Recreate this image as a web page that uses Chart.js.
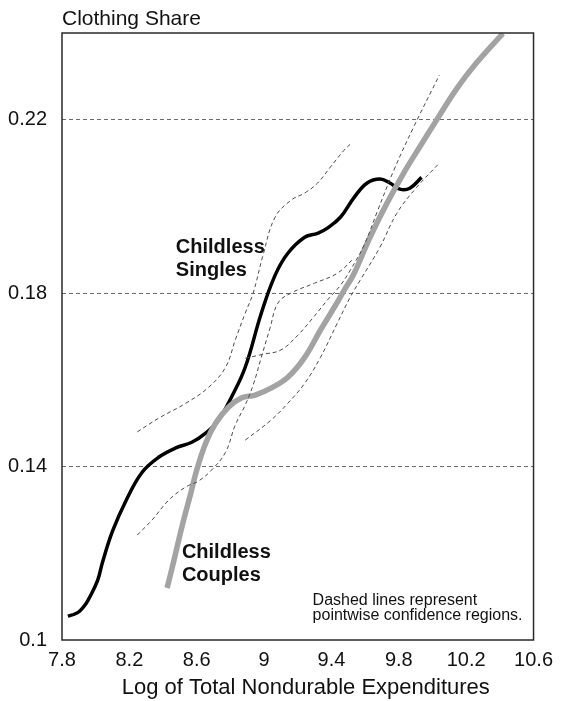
<!DOCTYPE html>
<html>
<head>
<meta charset="utf-8">
<script src="https://cdn.jsdelivr.net/npm/chart.js@4"></script>
<style>
  html, body { margin: 0; padding: 0; background: #ffffff; }
  #c { display: block; }
</style>
</head>
<body>
<canvas id="c" width="561" height="701" style="width:561px;height:701px"></canvas>
<script>
// Axis ticks
const xTicks = [7.8, 8.2, 8.6, 9, 9.4, 9.8, 10.2, 10.6];
const yTicks = [0.1, 0.14, 0.18, 0.22];

// Childless singles: fitted clothing share
const singlesX = [7.835, 7.876, 7.906, 7.941, 7.965, 8.012, 8.041, 8.100, 8.182, 8.276, 8.376, 8.476, 8.571, 8.653, 8.729, 8.806, 8.888, 8.982, 9.065, 9.141, 9.241, 9.318, 9.376, 9.453, 9.535, 9.612, 9.688, 9.747, 9.806, 9.865, 9.935];
const singlesY = [0.1055, 0.1060, 0.1067, 0.1083, 0.1099, 0.1138, 0.1180, 0.1251, 0.1323, 0.1387, 0.1422, 0.1443, 0.1456, 0.1477, 0.1507, 0.1560, 0.1629, 0.1752, 0.1841, 0.1892, 0.1929, 0.1938, 0.1950, 0.1975, 0.2021, 0.2054, 0.2063, 0.2054, 0.2040, 0.2042, 0.2067];

// Childless singles: pointwise confidence band
const singlesUpX = [8.247, 8.376, 8.535, 8.671, 8.771, 8.829, 8.888, 8.935, 8.994, 9.065, 9.159, 9.241, 9.318, 9.394, 9.476, 9.524];
const singlesUpY = [0.1480, 0.1512, 0.1546, 0.1583, 0.1629, 0.1692, 0.1754, 0.1800, 0.1888, 0.1975, 0.2014, 0.2031, 0.2054, 0.2091, 0.2130, 0.2148];
const singlesLoX = [8.247, 8.335, 8.435, 8.535, 8.612, 8.688, 8.771, 8.829, 8.888, 8.935, 8.982, 9.035, 9.082, 9.159, 9.300, 9.435, 9.535];
const singlesLoY = [0.1242, 0.1277, 0.1323, 0.1353, 0.1367, 0.1392, 0.1433, 0.1496, 0.1542, 0.1588, 0.1650, 0.1719, 0.1777, 0.1800, 0.1823, 0.1846, 0.1881];

// Childless couples: fitted clothing share
const couplesX = [8.424, 8.465, 8.512, 8.565, 8.600, 8.653, 8.712, 8.788, 8.865, 8.947, 9.041, 9.141, 9.241, 9.335, 9.418, 9.476, 9.535, 9.629, 9.729, 9.829, 9.924, 10.024, 10.141, 10.259, 10.418];
const couplesY = [0.1120, 0.1184, 0.1261, 0.1339, 0.1392, 0.1454, 0.1500, 0.1537, 0.1558, 0.1565, 0.1581, 0.1606, 0.1652, 0.1715, 0.1768, 0.1807, 0.1846, 0.1929, 0.2007, 0.2077, 0.2137, 0.2199, 0.2270, 0.2330, 0.2399];

// Childless couples: pointwise confidence band
const couplesUpX = [8.888, 8.994, 9.100, 9.200, 9.288, 9.376, 9.453, 9.512, 9.594, 9.671, 9.771, 9.888, 10.041];
const couplesUpY = [0.1650, 0.1659, 0.1669, 0.1703, 0.1742, 0.1784, 0.1818, 0.1853, 0.1911, 0.1987, 0.2084, 0.2183, 0.2303];
const couplesLoX = [8.888, 9.041, 9.141, 9.241, 9.335, 9.435, 9.512, 9.571, 9.688, 9.788, 9.906, 10.041];
const couplesLoY = [0.1461, 0.1507, 0.1546, 0.1592, 0.1652, 0.1731, 0.1791, 0.1830, 0.1906, 0.1984, 0.2044, 0.2100];

const FONT = "'Liberation Sans', Arial, Helvetica, sans-serif";
const INK = '#111111';

const pts = (xs, ys) => xs.map((x, i) => ({ x, y: ys[i] }));
const curve = (label, xs, ys, color, width, dash) => ({
  label,
  data: pts(xs, ys),
  showLine: true,
  borderColor: color,
  backgroundColor: color,
  borderWidth: width,
  borderDash: dash || [],
  borderCapStyle: 'butt',
  borderJoinStyle: 'round',
  pointRadius: 0,
  pointHoverRadius: 0,
  tension: 0.4,
  fill: false
});

// Frame around the plotting region
const framePlugin = {
  id: 'frame',
  afterDraw(chart) {
    const { ctx, chartArea: a } = chart;
    ctx.save();
    ctx.strokeStyle = '#2a2a2a';
    ctx.lineWidth = 1.5;
    ctx.setLineDash([]);
    ctx.strokeRect(a.left, a.top, a.right - a.left, a.bottom - a.top);
    ctx.restore();
  }
};

// Axis captions, curve names and footnote
const textPlugin = {
  id: 'texts',
  afterDraw(chart) {
    const { ctx, chartArea: a, scales: { x, y } } = chart;
    ctx.save();
    ctx.fillStyle = INK;
    ctx.textBaseline = 'alphabetic';
    ctx.textAlign = 'left';

    ctx.font = `21px ${FONT}`;
    ctx.fillText('Clothing Share', a.left, 25);

    ctx.font = `bold 20px ${FONT}`;
    const sx = x.getPixelForValue(8.476), sy = y.getPixelForValue(0.1892);
    ctx.fillText('Childless', sx, sy);
    ctx.fillText('Singles', sx, sy + 23);

    const cx = x.getPixelForValue(8.512), cy = y.getPixelForValue(0.1189);
    ctx.fillText('Childless', cx, cy);
    ctx.fillText('Couples', cx, cy + 23);

    ctx.font = `16px ${FONT}`;
    const nx = x.getPixelForValue(9.288), ny = y.getPixelForValue(0.1081);
    ctx.fillText('Dashed lines represent', nx, ny);
    ctx.fillText('pointwise confidence regions.', nx, ny + 15);

    ctx.font = `22px ${FONT}`;
    ctx.textAlign = 'center';
    ctx.textBaseline = 'middle';
    ctx.fillText('Log of Total Nondurable Expenditures', (a.left + a.right) / 2 + 8, 688);
    ctx.restore();
  }
};

new Chart(document.getElementById('c'), {
  type: 'scatter',
  data: {
    datasets: [
      curve('Singles upper', singlesUpX, singlesUpY, '#4a4a4a', 1, [4, 3]),
      curve('Singles lower', singlesLoX, singlesLoY, '#4a4a4a', 1, [4, 3]),
      curve('Couples upper', couplesUpX, couplesUpY, '#4a4a4a', 1, [4, 3]),
      curve('Couples lower', couplesLoX, couplesLoY, '#4a4a4a', 1, [4, 3]),
      curve('Childless Couples', couplesX, couplesY, '#a3a3a3', 5.5),
      curve('Childless Singles', singlesX, singlesY, '#000000', 3.5)
    ]
  },
  options: {
    responsive: false,
    animation: false,
    events: [],
    layout: { padding: { left: 0, right: 23, top: 33, bottom: 0 } },
    plugins: {
      legend: { display: false },
      title: { display: false },
      tooltip: { enabled: false }
    },
    scales: {
      x: {
        type: 'linear',
        min: 7.8,
        max: 10.6,
        afterBuildTicks: s => { s.ticks = xTicks.map(v => ({ value: v })); },
        afterFit: s => { s.height = 61; },
        grid: { display: false, drawTicks: false },
        border: { display: false },
        ticks: {
          padding: 8,
          color: INK,
          autoSkip: false,
          maxRotation: 0,
          font: { family: FONT, size: 20 },
          callback: v => String(+v.toFixed(2))
        },
        title: { display: false }
      },
      y: {
        type: 'linear',
        min: 0.1,
        max: 0.24,
        afterBuildTicks: s => { s.ticks = yTicks.map(v => ({ value: v })); },
        afterFit: s => { s.width = 62; },
        grid: {
          drawTicks: false,
          lineWidth: 1,
          color: c => (c.tick && c.tick.value > 0.1 + 1e-9) ? '#6a6a6a' : 'rgba(0,0,0,0)'
        },
        border: { display: false, dash: [4, 3] },
        ticks: {
          padding: 15,
          color: INK,
          font: { family: FONT, size: 20 },
          callback: v => String(+v.toFixed(2))
        }
      }
    }
  },
  plugins: [framePlugin, textPlugin]
});
</script>
</body>
</html>
